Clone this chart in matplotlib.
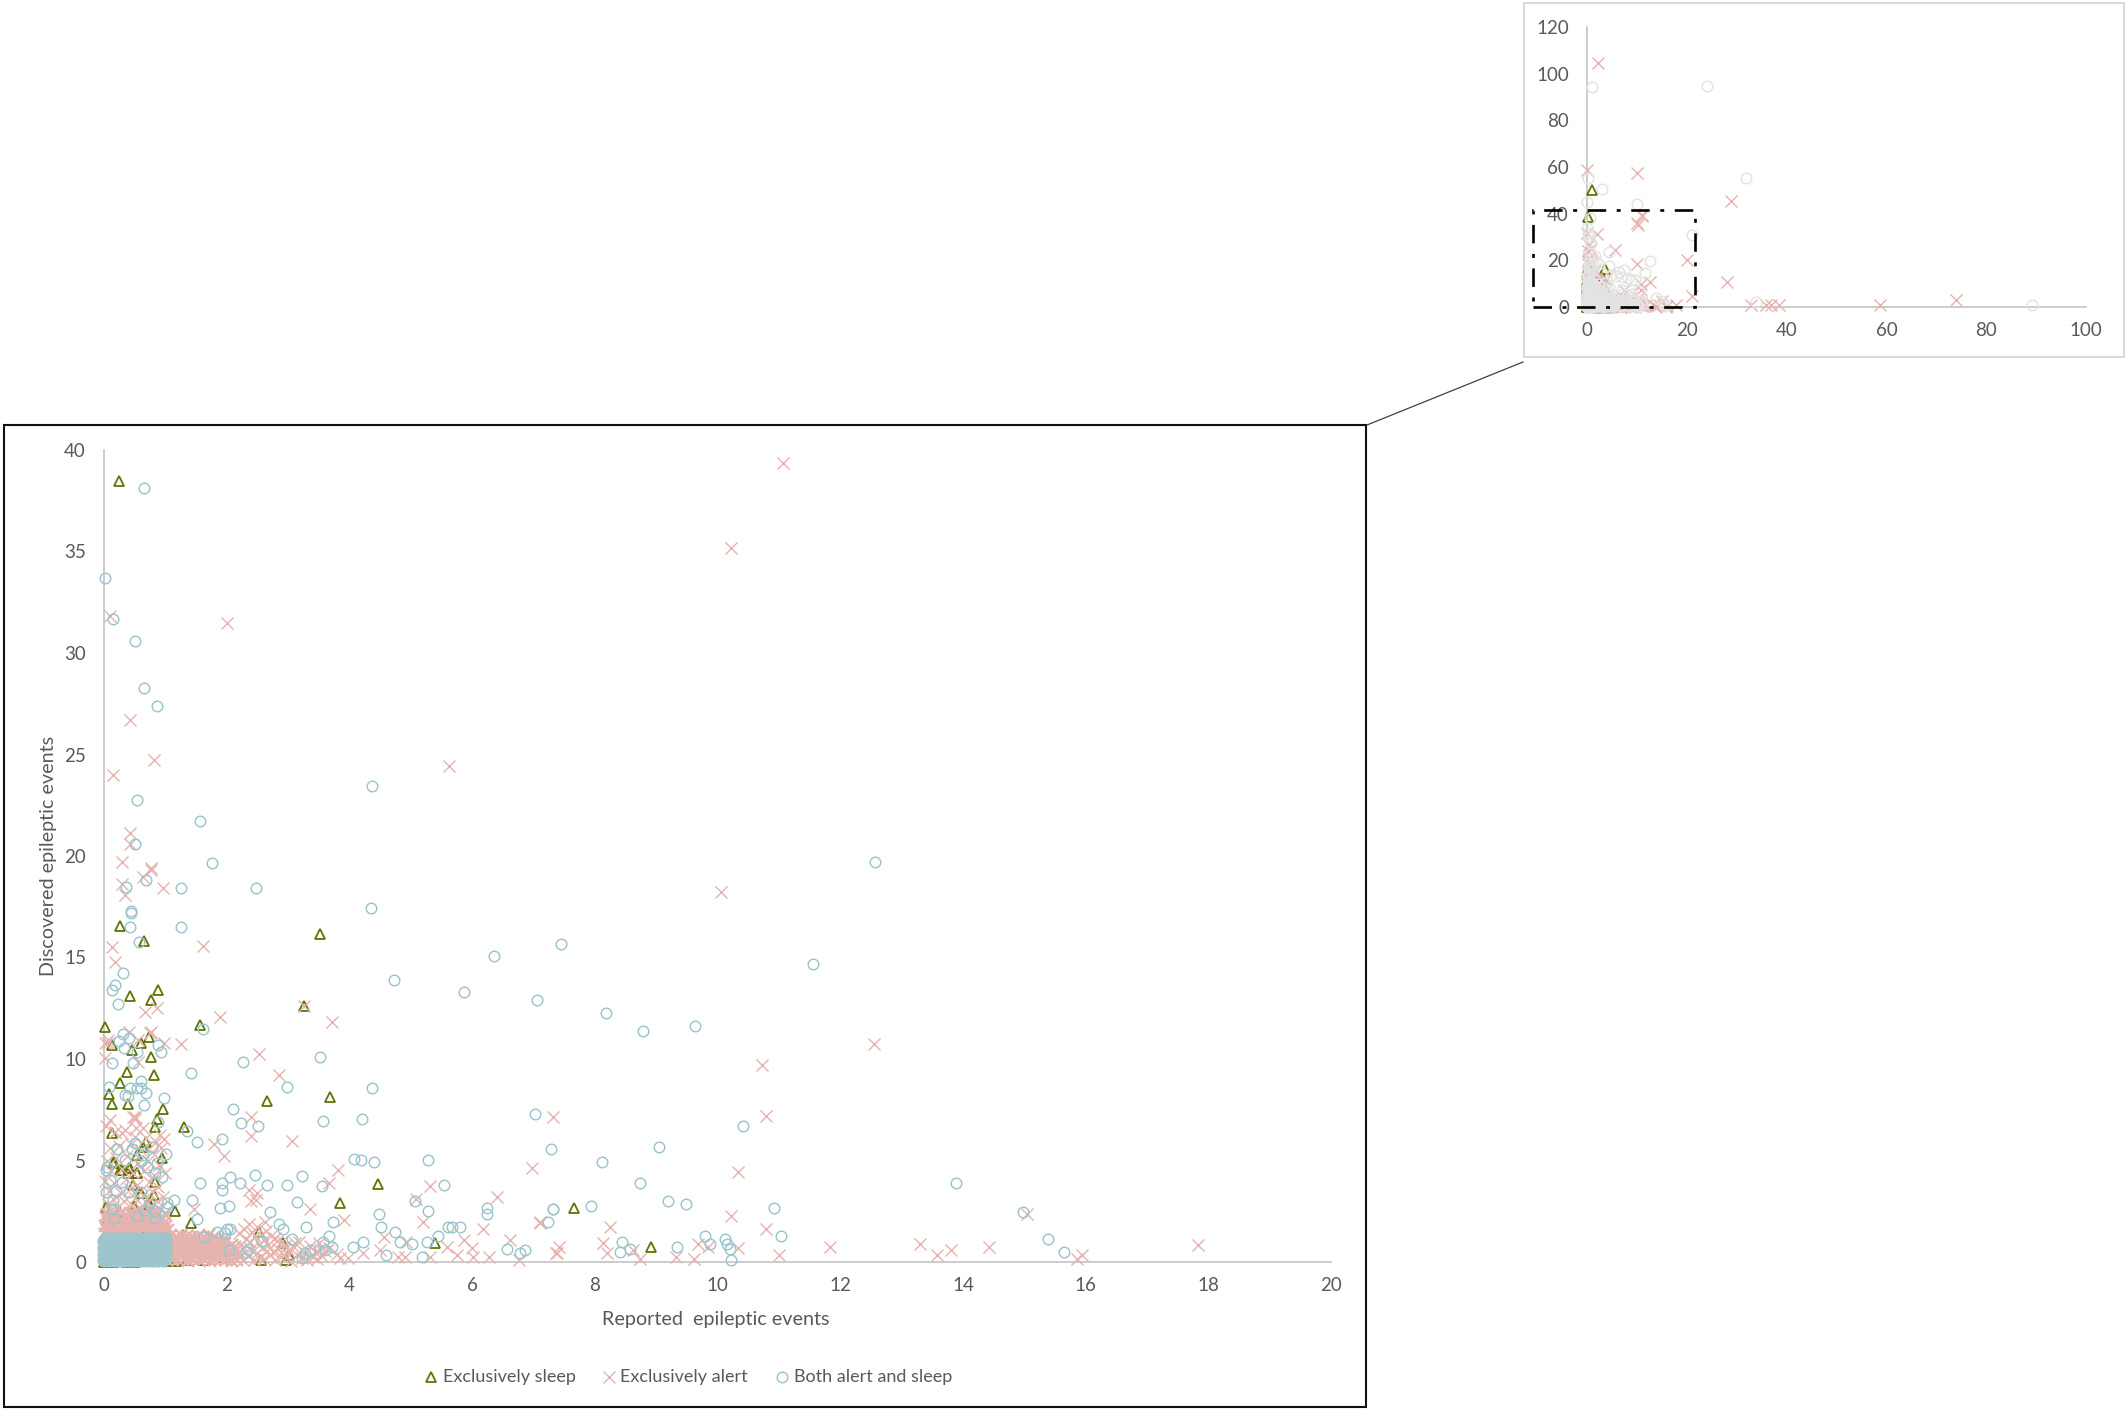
import matplotlib
matplotlib.use("Agg")
import matplotlib.pyplot as plt
from matplotlib.lines import Line2D
from matplotlib.patches import Rectangle

W, H = 2128, 1412
TEXT = "#595959"
AXIS = "#bfbfbf"
GREEN = "#5f7300"
PINK = "#e6b3ae"
TEAL = "#9cc5cd"
GREY = "#e3e3e3"

x_ticks_main = [0, 2, 4, 6, 8, 10, 12, 14, 16, 18, 20]
y_ticks_main = [0, 5, 10, 15, 20, 25, 30, 35, 40]
x_ticks_inset = [0, 20, 40, 60, 80, 100]
y_ticks_inset = [0, 20, 40, 60, 80, 100, 120]
series_names = ["Exclusively sleep", "Exclusively alert", "Both alert and sleep"]

sleep_x = [.24,.26,.66,3.52,.875,.42,.77,3.26,.016,1.57,
           .125,.45,.74,.61,.77,.82,.37,.26,.08,.125,
           .39,.96,2.66,3.68,.87,.83,1.3,.125,.68,.64,
           .53,.95,.15,.26,.42,.39,.53,.83,.47,4.46,
           3.84,.6,.82,.49,1.16,1.41,.04,.74,1.02,1.28,
           1.49,2.52,2.92,3.01,2.56,2.96,5.39,1.95,1.62,1.35,
           1.18,0,.37,.15,.16,.29,.41,.53,.61,.51,
           .74,.86,.62,.1,.3,.45,.7,.92,.2,.55,
           .05,.25,.6,.85,.33,.72,1.08,.02,.5,.97,
           7.66,8.92]
sleep_y = [38.47,16.55,15.83,16.14,13.38,13.1,12.89,12.61,11.59,11.67,
           10.69,10.46,11.1,10.77,10.1,9.21,9.36,8.8,8.28,7.78,
           7.78,7.52,7.91,8.13,7.03,6.67,6.67,6.37,5.93,5.68,
           5.27,5.1,4.86,4.53,4.61,4.37,4.37,3.96,3.79,3.86,
           2.92,3.41,3.3,2.76,2.51,1.94,2.73,2.89,1.49,1.33,
           1.25,1.49,.95,.36,.1,.1,.95,.26,.1,.1,
           .07,0,0,0,4.91,4.53,4.61,4.37,3.41,2.73,
           2.81,1.5,1.9,1.7,2.2,2.4,1.6,2.1,1.45,1.35,
           2.05,2.5,2.2,1.4,.05,.05,.05,.02,.02,.05,
           2.64,.72]

alert_x = [.42,.82,.15,5.63,.42,.42,.29,.76,.76,.64,
           .29,.34,.96,.125,.18,1.62,.67,.87,3.26,1.89,
           3.71,.1,2.0,10.73,10.79,10.33,7.32,10.22,7.11,8.25,
           10.79,8.14,7.42,7.36,8.2,8.62,8.73,9.32,9.61,9.68,
           9.85,10.34,11.0,11.83,13.3,13.57,13.81,14.43,15.04,15.94,
           15.86,17.84,11.07,10.22,10.06,12.55,.75,1.25,.07,.016,
           2.53,2.85,.5,.1,2.4,2.4,3.07,1.8,1.95,6.97,
           3.81,3.66,5.31,6.41,5.09,3.36,2.36,2.49,2.4,2.47,
           1.46,3.92,5.2,6.17,7.11,6.62,4.57,4.93,5.86,6.0,
           6.27,6.02,5.75,5.59,5.32,4.91,4.8,4.5,4.22,3.98,
           3.85,7.38,6.76,.07,.013,.4,.56,.76,.97,.56,
           .48,.5,.29,.64,.91,.5]
alert_y = [26.72,24.71,23.97,24.45,21.15,20.59,19.69,19.39,19.3,18.98,
           18.64,18.08,18.41,15.5,14.76,15.58,12.3,12.53,12.61,12.09,
           11.84,31.82,31.49,9.7,7.21,4.45,7.13,2.27,1.99,1.71,
           1.64,.95,.72,.43,.43,.59,.15,.23,.16,.87,
           .72,.67,.33,.74,.89,.33,.59,.74,2.36,.34,
           .15,.82,39.38,35.17,18.25,10.74,11.26,10.74,10.8,10.03,
           10.25,9.21,7.16,6.99,7.13,6.21,5.98,5.81,5.24,4.61,
           4.53,3.89,3.74,3.22,3.09,2.59,3.55,3.38,2.99,3.05,
           2.59,2.05,1.95,1.64,1.94,1.08,1.22,1.0,1.08,.67,
           .23,.26,.34,.76,.26,.26,.26,.59,.43,.18,
           .18,.43,.1,10.94,10.77,11.35,10.94,11.31,10.77,9.87,
           7.16,7.03,6.34,6.58,6.26,6.17]

# crowded part of the alert series, upper left
alert_left_x = [.03,.18,.34,.52,.68,.85,.98,.1,.25,.44,
                .6,.78,.93,.05,.2,.38,.56,.72,.9,.12,
                .3,.47,.66,.82,1.0,.02,.16,.36,.54,.74,
                .88,.08,.27,.42,.63,.79,.96,.14,.33,.5,
                .7,.86,.06,.23,.45,.58,.76,.92,.11,.31,
                .52,.68,.84,.04,.19,.41,.62,.8]
alert_left_y = [6.7,6.4,6.5,6.6,6.1,5.9,6.05,5.6,5.7,5.8,
                5.5,5.4,5.6,5.0,5.1,5.2,4.9,5.0,4.8,4.5,
                4.6,4.4,4.5,4.3,4.4,4.0,3.9,4.1,3.8,3.95,
                3.7,3.5,3.4,3.6,3.3,3.5,3.2,3.1,3.0,3.15,
                2.9,3.0,2.85,2.7,2.8,2.65,2.75,2.6,2.55,2.45,
                2.5,2.4,2.55,2.35,2.3,2.4,2.25,2.3]

# crowded part of the alert series above the solid block, estimated
alert_block_x = [.02,.1,.17,.26,.33,.42,.5,.57,.66,.74,.83,.92,1.0,
                 .05,.13,.22,.3,.38,.46,.55,.62,.71,.79,.88,.97,1.04,
                 .01,.09,.18,.25,.35,.43,.52,.6,.68,.77,.85,.94,1.01,
                 .06,.15,.23,.32,.4,.48,.56,.65,.73,.81,.9,.98,
                 .03,.12,.2,.29,.37,.45,.54,.63,.7,.8,.89,.96,
                 .07,.16,.27,.36,.47,.58,.69,.78,.87,.99]
alert_block_y = [1.38,1.33,1.4,1.36,1.42,1.34,1.39,1.44,1.35,1.41,1.37,1.32,1.43,
                 1.58,1.53,1.6,1.55,1.62,1.52,1.57,1.63,1.54,1.6,1.51,1.59,1.56,
                 1.77,1.73,1.8,1.71,1.76,1.82,1.72,1.79,1.74,1.81,1.7,1.78,1.75,
                 1.95,1.9,1.98,1.93,2.0,1.91,1.97,1.89,1.96,1.92,1.99,1.94,
                 2.16,2.1,2.18,2.12,2.2,2.09,2.15,2.19,2.11,2.17,2.08,2.14,
                 2.37,2.3,2.4,2.33,2.42,2.28,2.35,2.41,2.31,2.38]

# crowded part of the alert series right of the solid block, estimated
alert_run_x = [1.03,1.11,1.2,1.29,1.37,1.46,1.55,1.63,1.72,1.81,1.9,1.99,2.08,2.17,
               1.06,1.15,1.24,1.33,1.41,1.5,1.59,1.68,1.77,1.85,1.94,2.03,2.12,2.22,
               1.02,1.1,1.19,1.28,1.38,1.47,1.56,1.64,1.73,1.82,1.91,2.0,2.1,2.19,
               1.05,1.14,1.23,1.32,1.42,1.51,1.6,1.69,1.78,1.87,1.96,2.05,2.15,
               1.01,1.09,1.18,1.27,1.36,1.45,1.54,1.65,1.74,1.83,1.92,2.02,2.13,
               1.07,1.16,1.25,1.34,1.43,1.52,1.61,1.7,1.79,1.88,1.98,2.09,
               1.04,1.12,1.22,1.31,1.4,1.49,1.58,1.67,1.76,1.86,1.95,
               1.08,1.17,1.26,1.35,1.44,1.53,1.62,1.71,1.8]
alert_run_y = [.1,.14,.08,.12,.06,.15,.09,.13,.07,.11,.16,.1,.05,.12,
               .27,.23,.3,.25,.21,.28,.24,.31,.22,.26,.29,.2,.27,.24,
               .43,.39,.46,.41,.37,.44,.4,.47,.38,.42,.45,.36,.43,.4,
               .6,.56,.63,.58,.54,.61,.57,.64,.55,.59,.62,.53,.58,
               .76,.72,.79,.74,.7,.77,.73,.8,.71,.75,.78,.69,.74,
               .93,.89,.96,.91,.87,.94,.9,.97,.88,.92,.95,.86,
               1.1,1.06,1.13,1.08,1.04,1.11,1.07,1.14,1.05,1.09,1.12,
               1.28,1.24,1.31,1.26,1.22,1.29,1.25,1.32,1.23]

# thinner part of the alert series from x = 2 to x = 4, estimated
alert_tail_x = [2.26,2.35,2.44,2.52,2.61,2.7,2.79,2.88,2.97,3.05,3.14,3.22,3.31,3.4,3.48,3.56,
                2.3,2.4,2.49,2.58,2.66,2.75,2.84,2.93,3.02,3.1,3.28,3.44,3.52,3.6,
                2.24,2.38,2.55,2.68,2.82,2.95,3.12,3.35,3.5,3.66,3.8,
                2.32,2.46,2.6,2.78,2.9,3.18,
                2.2,2.42,2.56,2.72,
                2.28,2.5,2.64,
                2.36,2.62]
alert_tail_y = [.12,.3,.08,.22,.14,.35,.1,.27,.18,.06,.33,.2,.1,.25,.15,.3,
                .5,.62,.44,.7,.55,.48,.66,.58,.52,.72,.45,.5,.62,.55,
                .85,1.0,.9,.82,1.05,.78,.92,.8,.95,.7,.4,
                1.15,1.28,1.1,1.2,1.02,1.0,
                1.42,1.5,1.35,1.3,
                1.62,1.7,1.55,
                1.85,1.95]

both_x = [.66,.016,.15,.5,.66,.87,.53,1.57,.51,1.76,
          2.48,1.25,.68,.36,.44,.44,.42,1.25,.57,.31,
          .18,.125,.23,4.375,4.35,4.72,5.875,6.35,7.05,7.45,
          12.57,11.56,8.19,8.78,9.63,10.42,7.29,9.05,8.11,8.73,
          9.19,9.48,10.92,7.32,7.93,7.23,11.03,8.44,8.41,8.57,
          9.34,9.8,9.87,10.12,10.15,10.2,10.22,13.88,14.98,15.39,
          15.65,1.62,1.41,2.26,3.52,2.98,4.375,2.1,2.24,2.51,
          3.57,4.21,7.02,1.35,1.52,1.92,4.08,4.19,4.4,5.28,
          2.06,2.46,3.23,1.57,1.92,1.92,2.22,2.66,2.98,3.55,
          5.55,1.43,2.03,1.89,2.71,3.14,5.07,5.28,6.24,6.24,
          7.32,4.48,4.51,3.73,3.3,4.75,5.6,5.67,5.8,5.45,
          4.83,5.02,5.26,4.22,4.06,4.59,5.18,6.57,6.78,6.86,
          3.66,3.57,3.71,3.6,3.35,3.28,3.23,3.07,2.85,2.92,
          2.58,2.35,2.32,2.03,1.52,1.63,1.84,2.0,2.05,1.98,
          1.14,.31,.25,.41,.32,.53,.88,.93,.125,.47,
          .61,.08,.42,.53,.6,.68,.34,.39,.98,.66,
          .88,.21,.5,.46,.79,1.01,.64,.34,.61,.7,
          .86,.05,.03,.83,.94,.1,.3,.04,.2,.41,
          .61,.14,.73,.125,1.03,1.02,.65,.83,.16,.53,
          .83]
both_y = [38.11,33.68,31.66,30.6,28.26,27.39,22.78,21.74,20.59,19.64,
          18.41,18.41,18.82,18.49,17.31,17.21,16.49,16.49,15.75,14.22,
          13.65,13.4,12.71,23.43,17.45,13.89,13.32,15.09,12.92,15.66,
          19.7,14.68,12.27,11.38,11.63,6.72,5.58,5.65,4.94,3.88,
          2.99,2.86,2.68,2.59,2.76,1.97,1.3,.97,.51,.64,
          .74,1.3,.89,1.13,.89,.64,.1,3.88,2.45,1.15,
          .49,11.48,9.29,9.87,10.11,8.64,8.57,7.52,6.86,6.72,
          6.95,7.03,7.27,6.47,5.91,6.04,5.09,5.02,4.94,5.02,
          4.2,4.29,4.22,3.89,3.89,3.55,3.89,3.81,3.81,3.74,
          3.81,3.07,2.74,2.66,2.45,2.94,3.0,2.53,2.68,2.36,
          2.59,2.36,1.71,1.97,1.71,1.48,1.71,1.71,1.71,1.28,
          1.0,.9,.99,.97,.74,.34,.26,.66,.43,.57,
          1.28,.97,.74,.57,.57,.43,.18,1.13,1.87,1.64,
          1.05,.66,.51,.57,2.1,1.22,1.48,1.64,1.64,1.41,
          3.07,11.23,10.9,11.03,10.53,10.36,10.69,10.33,9.79,9.79,
          8.9,8.6,8.55,8.55,8.57,8.33,8.24,8.18,8.08,7.75,
          6.91,5.58,5.85,5.58,5.65,5.34,5.27,5.02,5.0,4.7,
          4.89,4.7,4.53,4.4,4.2,4.04,3.92,3.43,3.5,3.46,
          3.43,3.05,2.86,2.59,2.92,2.73,2.56,2.51,2.18,2.27,
          2.15]

# solid block of the both series, counted as a dense cluster, estimated
both_block_x = [0,.08,.16,.24,.32,.4,.48,.56,.64,.72,.8,.88,.96,
                .04,.12,.2,.28,.36,.44,.52,.6,.68,.76,.84,.92,.99,
                0,.08,.16,.24,.32,.4,.48,.56,.64,.72,.8,.88,.96,
                .04,.12,.2,.28,.36,.44,.52,.6,.68,.76,.84,.92,.99,
                0,.08,.16,.24,.32,.4,.48,.56,.64,.72,.8,.88,.96,
                .04,.12,.2,.28,.36,.44,.52,.6,.68,.76,.84,.92,.99,
                0,.08,.16,.24,.32,.4,.48,.56,.64,.72,.8,.88,.96,
                .04,.12,.2,.28,.36,.44,.52,.6,.68,.76,.84,.92,.99]
both_block_y = [.11,.11,.11,.11,.11,.11,.11,.11,.11,.11,.11,.11,.11,
                .26,.26,.26,.26,.26,.26,.26,.26,.26,.26,.26,.26,.26,
                .41,.41,.41,.41,.41,.41,.41,.41,.41,.41,.41,.41,.41,
                .56,.56,.56,.56,.56,.56,.56,.56,.56,.56,.56,.56,.56,
                .71,.71,.71,.71,.71,.71,.71,.71,.71,.71,.71,.71,.71,
                .86,.86,.86,.86,.86,.86,.86,.86,.86,.86,.86,.86,.86,
                1.01,1.01,1.01,1.01,1.01,1.01,1.01,1.01,1.01,1.01,1.01,1.01,1.01,
                1.15,1.15,1.15,1.15,1.15,1.15,1.15,1.15,1.15,1.15,1.15,1.15,1.15]

# points beyond the main chart's range, seen only in the inset
sleep_far_x = [1.0]
sleep_far_y = [50.3]
alert_far_x = [2.2,.1,9.95,28.9,11,10,20.1,28,21.1,32.9,35.8,36.9,38.4,58.8,74]
alert_far_y = [104.6,58.9,57.5,45.3,38.8,36.2,20.1,10.6,4.6,.7,.7,.7,.7,.7,3]
both_far_x = [1,24.1,31.9,.16,3.1,.1,9.95,21.1,33.9,89.1]
both_far_y = [94.1,94.7,55.2,55.2,50.4,45,44,31,2.2,.7]

thin_alert_x = alert_x + alert_left_x + alert_tail_x
thin_alert_y = alert_y + alert_left_y + alert_tail_y
thick_alert_x = alert_block_x + alert_run_x
thick_alert_y = alert_block_y + alert_run_y

plt.rcParams["font.family"] = ["Lato", "DejaVu Sans"]
fig = plt.figure(figsize=(W / 100, H / 100), dpi=100, facecolor="white")

MS_TRI, MS_X, MS_O = 7.7, 8.7, 7.6
MEW_TRI, MEW_X, MEW_O = 1.3, 1.0, 1.05


def fx(px):
    return px / W


def fy(py):
    return 1 - py / H


def place(left, right, top, bottom):
    return fig.add_axes([fx(left), fy(bottom), (right - left) / W, (bottom - top) / H])


def style(ax, xt, yt):
    for s in ("top", "right"):
        ax.spines[s].set_visible(False)
    for s in ("left", "bottom"):
        ax.spines[s].set_color(AXIS)
        ax.spines[s].set_linewidth(1.1)
    ax.set_xticks(xt)
    ax.set_yticks(yt)
    ax.tick_params(axis="x", length=0, pad=11, labelsize=13.5, labelcolor=TEXT)
    ax.tick_params(axis="y", length=0, pad=13, labelsize=13.5, labelcolor=TEXT)
    ax.patch.set_alpha(0)


def tri(ax, x, y):
    ax.plot(x, y, ls="none", marker="^", ms=MS_TRI, mfc="none", mec=GREEN, mew=MEW_TRI,
            clip_on=False, zorder=3)


def cross(ax, x, y, mew=MEW_X):
    ax.plot(x, y, ls="none", marker="x", ms=MS_X, mec=PINK, mew=mew, clip_on=False, zorder=4)


def ring(ax, x, y, color, mew=MEW_O):
    ax.plot(x, y, ls="none", marker="o", ms=MS_O, mfc="none", mec=color, mew=mew,
            clip_on=False, zorder=5)


# frames and connector
fig.add_artist(Rectangle((fx(4), fy(1407)), 1362 / W, 982 / H, transform=fig.transFigure,
                         fill=False, ec="#111111", lw=1.5))
fig.add_artist(Rectangle((fx(1524), fy(357)), 600 / W, 354 / H, transform=fig.transFigure,
                         fill=False, ec="#d9d9d9", lw=1.4))
fig.add_artist(Line2D([fx(1367), fx(1523)], [fy(425), fy(362)], transform=fig.transFigure,
                      color="#404040", lw=0.9))

# main chart
ax = place(104, 1331, 450, 1262)
style(ax, x_ticks_main, y_ticks_main)
ax.set_xlim(0, 20)
ax.set_ylim(0, 40)
tri(ax, sleep_x, sleep_y)
cross(ax, thin_alert_x, thin_alert_y)
cross(ax, thick_alert_x, thick_alert_y, mew=1.7)
ring(ax, both_x, both_y, TEAL)
ring(ax, both_block_x, both_block_y, TEAL, mew=2.6)
fig.text(fx(716), fy(1320), "Reported  epileptic events", ha="center", va="center",
         fontsize=14.2, color=TEXT)
fig.text(fx(49), fy(856), "Discovered epileptic events", ha="center", va="center",
         rotation=90, fontsize=14.2, color=TEXT)

# inset overview
ins = place(1587, 2086, 27, 307)
style(ins, x_ticks_inset, y_ticks_inset)
ins.set_xlim(0, 100)
ins.set_ylim(0, 120)
tri(ins, sleep_x + sleep_far_x, sleep_y + sleep_far_y)
cross(ins, thin_alert_x + alert_far_x, thin_alert_y + alert_far_y)
cross(ins, thick_alert_x, thick_alert_y)
ring(ins, both_x + both_far_x, both_y + both_far_y, GREY)
ring(ins, both_block_x, both_block_y, GREY)

# dash-dot zoom box on the inset
fig.add_artist(Rectangle((fx(1533), fy(307)), 162 / W, 97 / H, transform=fig.transFigure,
                         fill=False, ec="black", lw=1.9, ls=(0, (7, 4, 1.5, 4)), zorder=10))

# legend
leg_y = fy(1377)
fig.add_artist(Line2D([fx(431)], [leg_y], transform=fig.transFigure, ls="none", marker="^",
                      ms=MS_TRI, mfc="none", mec=GREEN, mew=MEW_TRI))
fig.add_artist(Line2D([fx(609)], [leg_y], transform=fig.transFigure, ls="none", marker="x",
                      ms=MS_X, mec=PINK, mew=MEW_X))
fig.add_artist(Line2D([fx(782)], [leg_y], transform=fig.transFigure, ls="none", marker="o",
                      ms=MS_O, mfc="none", mec=TEAL, mew=MEW_O))
for px, name in zip((443, 620, 794), series_names):
    fig.text(fx(px), leg_y, name, ha="left", va="center", fontsize=13, color=TEXT)

fig.savefig("out.png", dpi=100, facecolor="white")
